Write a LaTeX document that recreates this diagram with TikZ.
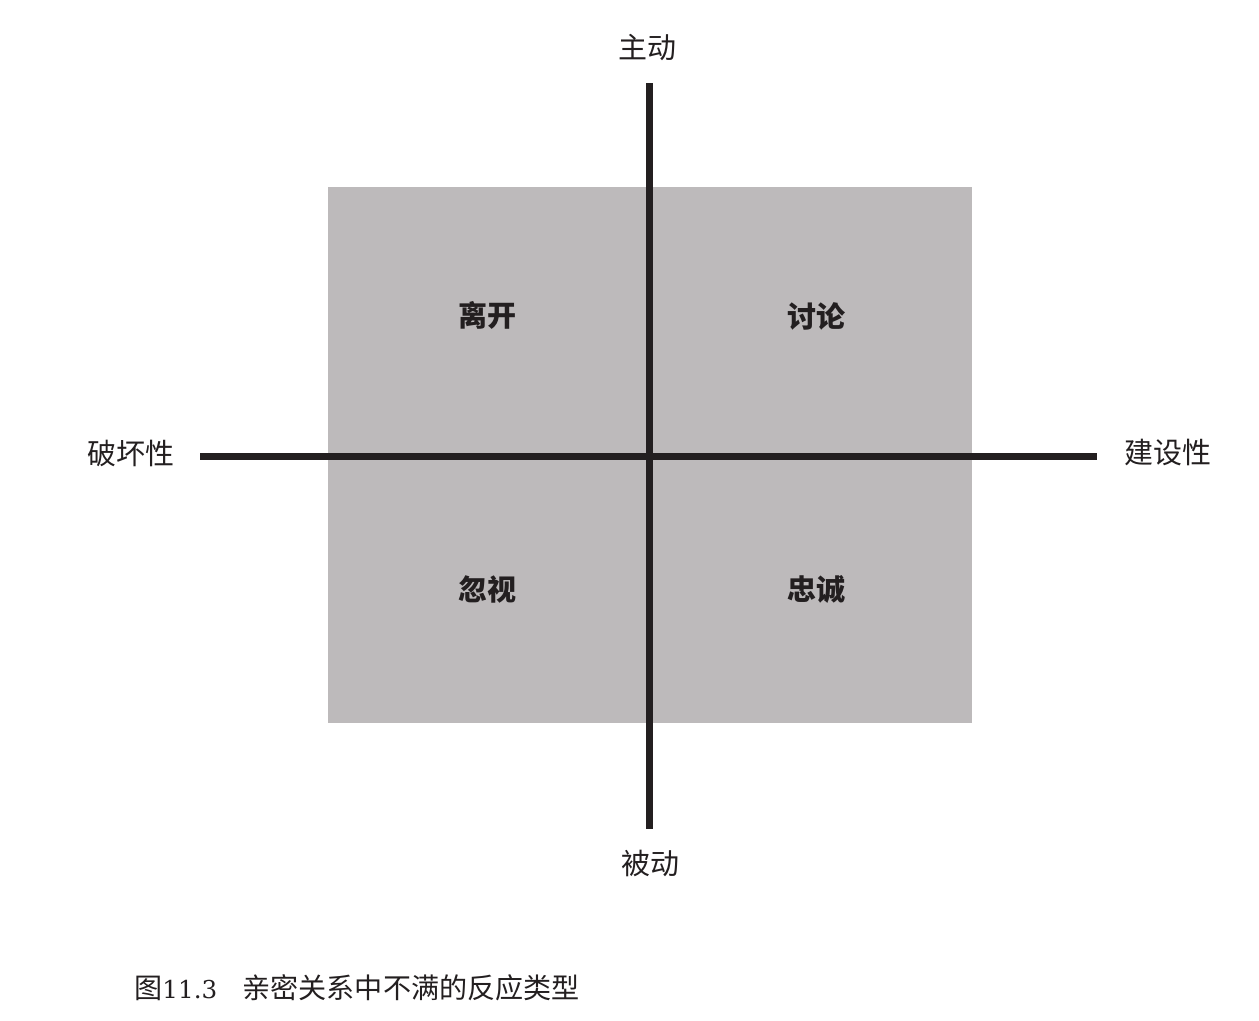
\documentclass[tikz,border=0pt]{standalone}
\usepackage{fontspec}
\newfontfamily\cjk{Noto Sans CJK SC}
\newfontfamily\numfont{DejaVu Serif}
\definecolor{quadgray}{RGB}{189,186,187}
\definecolor{axisblack}{RGB}{35,31,32}
\begin{document}
\begin{tikzpicture}[
    x=0.02cm, y=-0.02cm,
    axis/.style = { draw=axisblack, line width=0.14cm },
    axislabel/.style = { font=\cjk\fontsize{16.5}{18}\selectfont, text=axisblack, inner sep=0pt },
    quadlabel/.style = { font=\cjk\bfseries\fontsize{16.5}{18}\selectfont, text=axisblack, inner sep=0pt }
    ]
\useasboundingbox (0,0) rectangle (1259,1021);
\fill[quadgray] (328,187) rectangle (972,723);
\node[axislabel] (Active) at (647,48) {主动};
\node[axislabel] (Passive) at (650,863) {被动};
\node[axislabel] (Destructive) at (131,453) {破坏性};
\node[axislabel] (Constructive) at (1168,453) {建设性};
\coordinate (Top) at (649,83);
\coordinate (Bottom) at (649,829);
\coordinate (Left) at (200,456);
\coordinate (Right) at (1097,456);
\node[quadlabel] (Exit) at (487,315) {离开};
\node[quadlabel] (Voice) at (816,316) {讨论};
\node[quadlabel] (Neglect) at (487,589) {忽视};
\node[quadlabel] (Loyalty) at (816,589) {忠诚};
%
\foreach \Source/\Target in {%
        Top/Bottom,
        Left/Right%
    }
\draw[axis] (\Source) to (\Target);
%
\node[axislabel, anchor=west, font=\cjk\fontsize{16}{18}\selectfont] (Caption) at (134,988)
    {图{\numfont\fontsize{14}{16}\selectfont 11.3}\hspace{0.9em}亲密关系中不满的反应类型};
\end{tikzpicture}
\end{document}
